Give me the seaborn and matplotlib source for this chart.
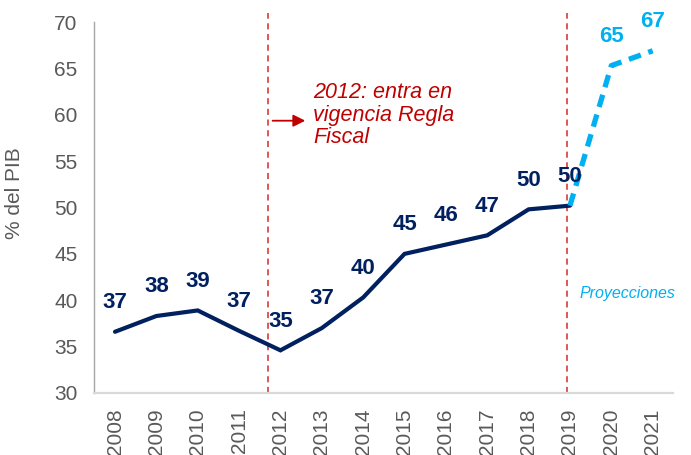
import numpy as np
import pandas as pd
import matplotlib
matplotlib.use("Agg")
import matplotlib.pyplot as plt
import seaborn as sns

# Deuda como % del PIB: observado 2008-2019, proyección 2019-2021
years_obs = [2008, 2009, 2010, 2011, 2012, 2013, 2014, 2015, 2016, 2017, 2018, 2019]
debt_obs = [36.6, 38.3, 38.9, 36.7, 34.6, 37.0, 40.3, 45.0, 46.0, 47.0, 49.8, 50.2]
years_proj = [2019, 2020, 2021]
debt_proj = [50.2, 65.3, 66.9]

tick_years = list(range(2008, 2022))
y_ticks = [30, 35, 40, 45, 50, 55, 60, 65, 70]

rule_year = 2011.69      # entrada en vigencia de la Regla Fiscal
proj_year = 2018.94      # inicio de las proyecciones

NAVY = "#002060"
LIGHT = "#00B0F0"
RED = "#C00000"
GRAY = "#595959"

sns.set_style("white")
plt.rcParams["font.family"] = ["Liberation Sans", "DejaVu Sans"]

fig = plt.figure(figsize=(6.91, 4.55), dpi=100)
ax = fig.add_axes([0.1365, 0.1363, 0.838, 0.8153])

obs = pd.DataFrame({"year": years_obs, "debt": debt_obs})
proj = pd.DataFrame({"year": years_proj, "debt": debt_proj})

sns.lineplot(data=obs, x="year", y="debt", color=NAVY, linewidth=3.0, ax=ax,
             solid_joinstyle="miter")
sns.lineplot(data=proj, x="year", y="debt", color=LIGHT, linewidth=3.8, ax=ax)
ax.lines[-1].set_linestyle((0, (2.4, 1.5)))

ax.set_xlim(2007.5, 2021.5)
ax.set_ylim(30, 70)
ax.set_yticks(y_ticks)
ax.set_xticks(tick_years)
ax.set_xticklabels([str(y) for y in tick_years], rotation=90)
ax.tick_params(axis="both", length=0, labelsize=15, labelcolor=GRAY)
ax.tick_params(axis="y", pad=12)
ax.tick_params(axis="x", pad=11)

ax.set_xlabel("")
ax.set_ylabel("% del PIB", fontsize=15, color=GRAY)
ax.yaxis.set_label_coords(-0.122, 0.54)

for side in ("top", "right"):
    ax.spines[side].set_visible(False)
ax.spines["left"].set_color("#A6A6A6")
ax.spines["left"].set_linewidth(1.0)
ax.spines["bottom"].set_color("#D9D9D9")
ax.spines["bottom"].set_linewidth(1.6)

# Líneas verticales de referencia
for xv in (rule_year, proj_year):
    ax.plot([xv, xv], [30, 70.97], color="#D42A2A", linewidth=1.1,
            linestyle=(0, (4, 3)), clip_on=False, zorder=1)

# Etiquetas de valores
def label_value(v):
    return str(int(np.floor(v + 0.5)))

for x, v in zip(years_obs, debt_obs):
    ax.annotate(label_value(v), (x, v), xytext=(0, 21), textcoords="offset points",
                ha="center", va="center", fontsize=16, fontweight="bold", color=NAVY)
for x, v in zip(years_proj[1:], debt_proj[1:]):
    ax.annotate(label_value(v), (x, v), xytext=(0, 21), textcoords="offset points",
                ha="center", va="center", fontsize=16, fontweight="bold", color=LIGHT)

# Anotación de la Regla Fiscal
ax.text(2012.79, 59.95, "2012: entra en\nvigencia Regla\nFiscal", fontsize=15.5,
        style="italic", color=RED, ha="left", va="center", linespacing=1.08)
ax.annotate("", xy=(2012.6, 59.36), xytext=(2011.81, 59.36),
            arrowprops=dict(arrowstyle="-|>", color=RED, lw=1.3,
                            mutation_scale=18, shrinkA=0, shrinkB=0))

ax.text(2020.4, 40.78, "Proyecciones", fontsize=11.5, style="italic", color=LIGHT,
        ha="center", va="center")

fig.savefig("out.png", dpi=100)
